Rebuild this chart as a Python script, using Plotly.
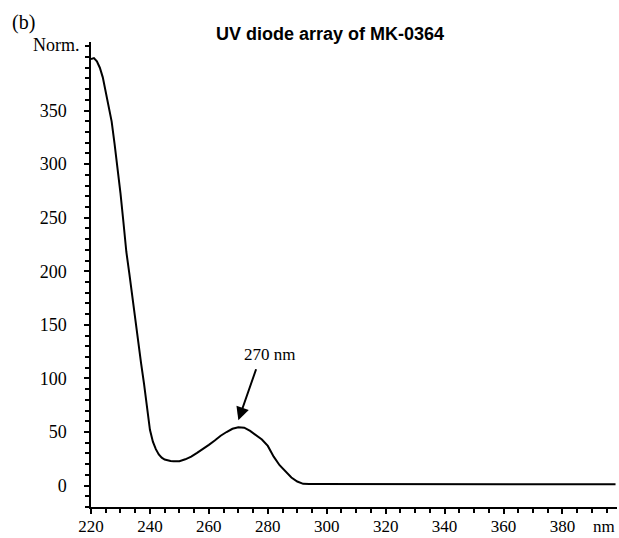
import plotly.graph_objects as go

# Data
wavelength = [220, 221, 222, 223, 224, 225, 226, 227, 228, 229, 230, 231, 232, 233, 234,
              235, 236, 237, 238, 239, 240, 241, 242, 243, 244, 245, 246, 247, 248, 249,
              250, 252, 254, 256, 258, 260, 262, 264, 266, 268, 270, 271, 272, 274, 276,
              278, 280, 282, 284, 286, 288, 290, 292, 294, 300, 306, 310, 316, 322, 326,
              332, 340, 350, 358, 362, 366, 370, 376, 382, 388, 392, 398]
absorbance = [398, 399, 396, 390, 381, 368, 356, 340, 319, 298, 273, 246, 218, 198, 176,
              155, 134, 114, 95, 72, 52, 41, 34, 29, 26, 24.3, 23.4, 22.9, 22.6, 22.5,
              22.8, 24.5, 27, 30.5, 34, 38, 42, 46.5, 50, 53, 54.5, 54.6, 54, 51, 47,
              43, 37, 27, 19, 13, 7.5, 3.8, 1.6, 1.5, 1.5, 1.4, 1.2, 1.4, 1.1, 1.4,
              1.3, 1.4, 1.5, 1.2, 1.1, 1.3, 1.1, 1.2, 1.0, 1.2, 1.1, 1.2]

x_major = [220, 240, 260, 280, 300, 320, 340, 360, 380]
y_major = [0, 50, 100, 150, 200, 250, 300, 350]

serif = "Liberation Serif, Times New Roman, serif"

fig = go.Figure()
fig.add_trace(go.Scatter(x=wavelength, y=absorbance, mode="lines",
                         line=dict(color="black", width=2), hoverinfo="skip"))

fig.update_layout(
    width=619, height=538,
    margin=dict(l=91, r=2, t=42, b=31, autoexpand=False),
    paper_bgcolor="white", plot_bgcolor="white",
    showlegend=False,
    xaxis=dict(range=[220, 398.5], tickvals=x_major, ticktext=[str(v) for v in x_major],
               automargin=False,
               showgrid=False, zeroline=False, showline=True, linecolor="black", linewidth=1.5,
               ticks="outside", ticklen=5, tickwidth=1.5, tickcolor="black",
               ticklabelstandoff=-2,
               tickfont=dict(family=serif, size=17, color="black"),
               minor=dict(dtick=5, tick0=220, ticks="outside", ticklen=4, tickwidth=1.5,
                          tickcolor="black", showgrid=False)),
    yaxis=dict(range=[-20, 414], tickvals=y_major, ticktext=[str(v) for v in y_major],
               automargin=False,
               showgrid=False, zeroline=False, showline=True, linecolor="black", linewidth=1.5,
               ticks="outside", ticklen=5, tickwidth=1.5, tickcolor="black",
               ticklabelstandoff=14,
               tickfont=dict(family=serif, size=18, color="black"),
               minor=dict(dtick=10, tick0=0, ticks="outside", ticklen=4, tickwidth=1.5,
                          tickcolor="black", showgrid=False)),
    annotations=[
        dict(text="<b>UV diode array of MK-0364</b>", xref="paper", yref="paper",
             x=(330 - 91) / 526, y=1, yshift=-4, xanchor="center", yanchor="bottom",
             showarrow=False, font=dict(family="Liberation Sans, Arial, sans-serif", size=18, color="black")),
        dict(text="(b)", xref="paper", yref="paper", x=-81 / 526, y=1, yshift=6,
             xanchor="left", yanchor="bottom", showarrow=False,
             font=dict(family=serif, size=20, color="black")),
        dict(text="Norm.", xref="paper", yref="paper", x=-9 / 526, y=1, yshift=-3,
             xanchor="right", yanchor="middle", showarrow=False,
             font=dict(family=serif, size=18, color="black")),
        dict(text="nm", xref="paper", yref="paper", x=1, y=0, yshift=-19,
             xanchor="right", yanchor="middle", showarrow=False,
             font=dict(family=serif, size=17, color="black")),
        dict(text="270 nm", xref="x", yref="y", x=280.5, y=122, xanchor="center",
             yanchor="middle", showarrow=False,
             font=dict(family=serif, size=17, color="black")),
        dict(text="", xref="x", yref="y", x=270, y=61, axref="x", ayref="y",
             ax=276.2, ay=110, showarrow=True, arrowhead=2, arrowsize=1.3,
             arrowwidth=2, arrowcolor="black"),
    ],
)

fig.write_html("out.html")
